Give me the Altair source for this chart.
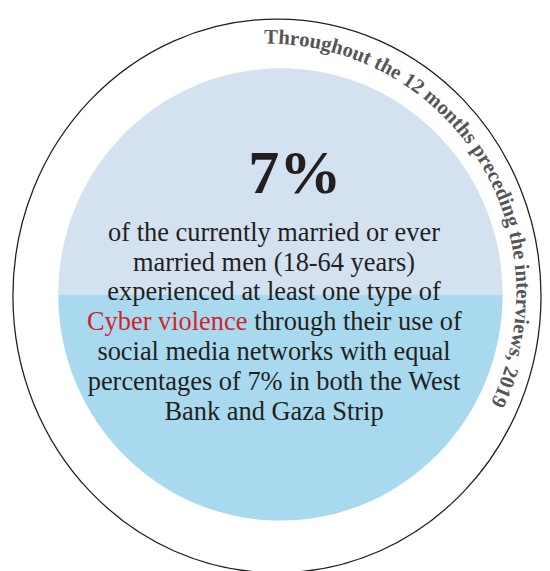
import math
import altair as alt
import pandas as pd

# ---- content -------------------------------------------------------------
headline = ["7%"]
body_lines = [
    "of the currently married or ever",
    "married men (18-64 years)",
    "experienced at least one type of",
    "",  # mixed-colour line drawn separately
    "social media networks with equal",
    "percentages of 7% in both the West",
    "Bank and Gaza Strip",
]
highlight_text = ["Cyber violence"]
highlight_rest = ["through their use of"]
arc_caption = "Throughout the 12 months preceding the interviews, 2019"

# ---- styling ---------------------------------------------------------------
TEXT = "#231f20"
RED = "#d2232a"
TOP_FILL = "#d4e1f0"
BOTTOM_FILL = "#a9d9ef"
RING = "#231f20"
ARC_TEXT = "#555557"
SERIF = "Liberation Serif"

W, H = 542, 563
OFF = 8  # page margin


def P(v):
    return v - OFF


# Times bold advance widths (per 1000 em) for the curved caption
BOLD_W = {"T": 667, "h": 556, "r": 444, "o": 500, "u": 556, "g": 500, "t": 333,
          " ": 250, "e": 444, "1": 500, "2": 500, "m": 833, "n": 556, "s": 389,
          "p": 556, "c": 444, "d": 556, "i": 278, "v": 500, "w": 722, ",": 250,
          "0": 500, "9": 500}

one = pd.DataFrame({"k": [0]})


def ellipse_path(ratio):
    return (f"M{-ratio},0A{ratio},1,0,1,1,{ratio},0"
            f"A{ratio},1,0,1,1,{-ratio},0Z")


def half_path(ratio, top=True):
    sweep = 1 if top else 0
    return f"M{-ratio},0A{ratio},1,0,0,{sweep},{ratio},0Z"


# outer ring
o_cx, o_cy, o_rx, o_ry = 281, 296, 268, 281
ring = alt.Chart(one).mark_point(
    shape=ellipse_path(o_rx / o_ry), size=(2 * o_ry) ** 2, filled=False,
    stroke=RING, strokeWidth=1.3, opacity=1,
).encode(x=alt.value(P(o_cx)), y=alt.value(P(o_cy)))

# inner disc halves
i_cx, i_cy, i_rx, i_ry = 284.5, 294.5, 225.5, 229.5
top_half = alt.Chart(one).mark_point(
    shape=half_path(i_rx / i_ry, True), size=(2 * i_ry) ** 2, filled=True,
    fill=TOP_FILL, strokeWidth=0, opacity=1,
).encode(x=alt.value(P(i_cx)), y=alt.value(P(i_cy)))
bottom_half = alt.Chart(one).mark_point(
    shape=half_path(i_rx / i_ry, False), size=(2 * i_ry) ** 2, filled=True,
    fill=BOTTOM_FILL, strokeWidth=0, opacity=1,
).encode(x=alt.value(P(i_cx)), y=alt.value(P(i_cy)))

# headline
head = alt.Chart(pd.DataFrame({"t": headline})).mark_text(
    font=SERIF, fontSize=63, fontWeight="bold", color=TEXT,
    align="center", baseline="alphabetic",
).encode(text="t:N", x=alt.value(P(299)), y=alt.value(P(192)))

# body lines
FS = 26.8
LH = 30.33
body_df = pd.DataFrame({"t": body_lines, "i": list(range(len(body_lines)))})
body_df = body_df[body_df["t"] != ""]
body_df["yy"] = P(240) + body_df["i"] * LH
body = alt.Chart(body_df).mark_text(
    font=SERIF, fontSize=FS, color=TEXT, align="center", baseline="alphabetic",
).encode(text="t:N", x=alt.value(P(278)),
         y=alt.Y("yy:Q", scale=None, axis=None))

red = alt.Chart(pd.DataFrame({"t": highlight_text})).mark_text(
    font=SERIF, fontSize=FS, color=RED, align="right", baseline="alphabetic",
).encode(text="t:N", x=alt.value(P(251)), y=alt.value(P(240) + 3 * LH))
rest = alt.Chart(pd.DataFrame({"t": highlight_rest})).mark_text(
    font=SERIF, fontSize=FS, color=TEXT, align="left", baseline="alphabetic",
).encode(text="t:N", x=alt.value(P(258)), y=alt.value(P(240) + 3 * LH))

# curved caption
a_cx, a_cy, a_r = P(271), P(293), 253
fs = 21
start_deg = -0.7
rows = []
cum = 0.0
for ch in arc_caption:
    w = BOLD_W.get(ch, 500) / 1000 * fs
    mid = cum + w / 2
    th = math.radians(start_deg) + mid / a_r
    rows.append({
        "c": ch,
        "x": a_cx + a_r * math.sin(th),
        "y": a_cy - a_r * math.cos(th),
        "a": math.degrees(th) % 360,
    })
    cum += w
arc_df = pd.DataFrame(rows)
arc_df = arc_df[arc_df["c"] != " "]
caption = alt.Chart(arc_df).mark_text(
    font=SERIF, fontSize=fs, fontWeight="bold", color=ARC_TEXT,
    align="center", baseline="alphabetic",
).encode(
    text="c:N",
    x=alt.X("x:Q", scale=None, axis=None),
    y=alt.Y("y:Q", scale=None, axis=None),
    angle=alt.Angle("a:Q", scale=None),
)

chart = alt.layer(ring, top_half, bottom_half, head, body, red, rest, caption).properties(
    width=W, height=H, padding=0,
    autosize=alt.AutoSizeParams(type="none"),
    background="white",
).configure_view(stroke=None)

chart.save("out.html", embed_options={"renderer": "svg", "actions": False})
